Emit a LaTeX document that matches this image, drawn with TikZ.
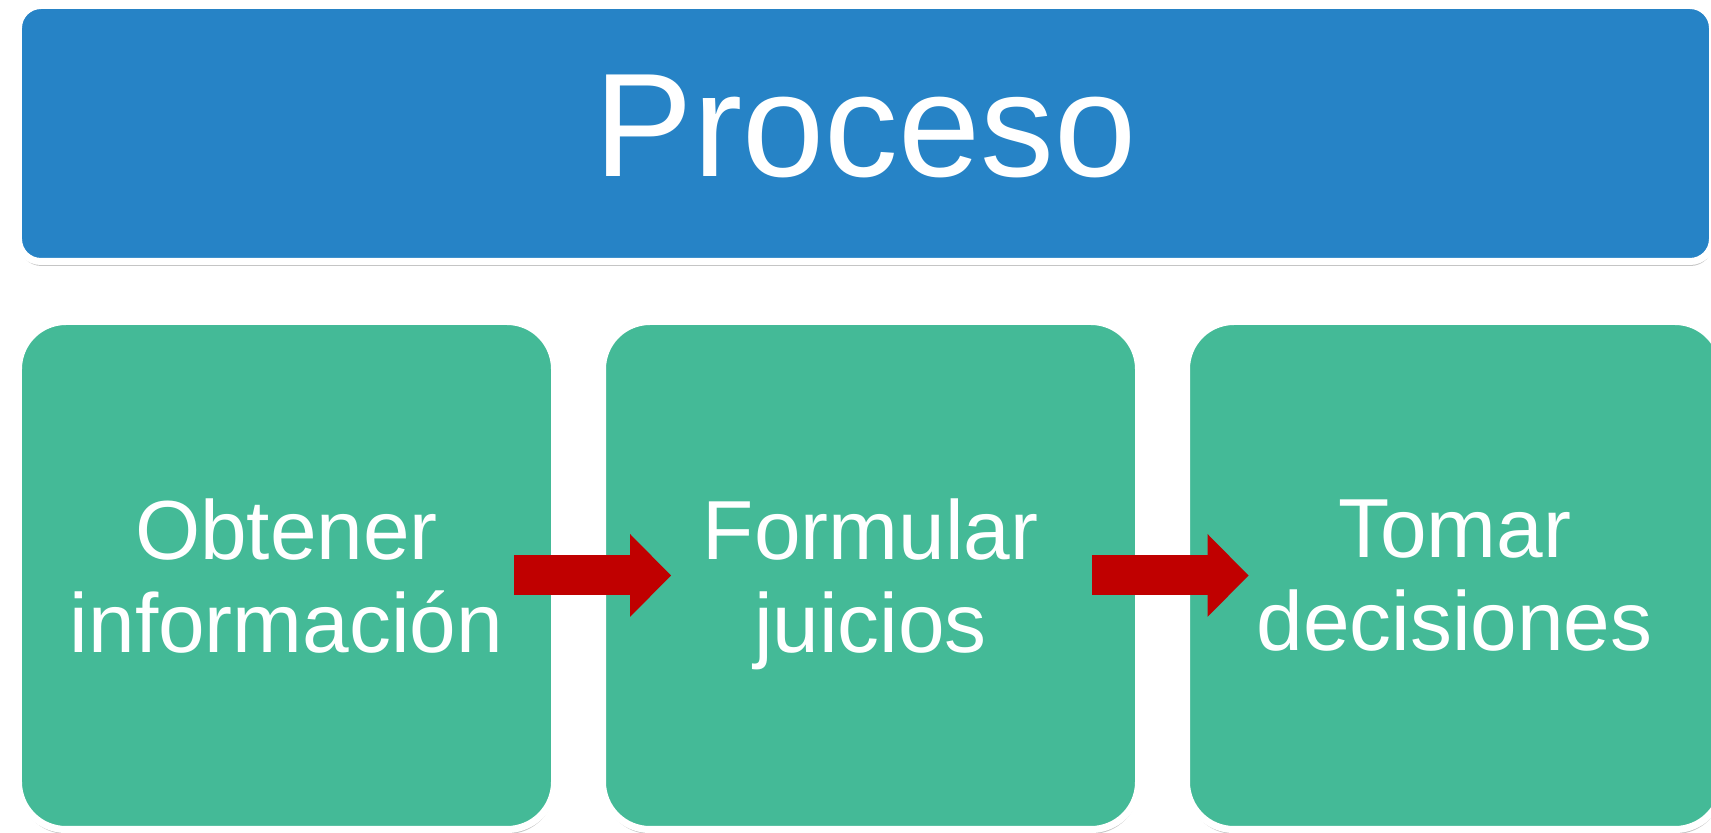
\documentclass[tikz,border=0pt]{standalone}
\usepackage{fontspec}
\setmainfont{Liberation Sans}
\usetikzlibrary{positioning,arrows.meta,shadows}

\definecolor{procblue}{RGB}{38,131,198}
\definecolor{stepgreen}{RGB}{68,186,151}
\definecolor{arrowred}{RGB}{192,0,0}

\tikzset{
    card/.style={draw=white, line width=0.14cm, text=white,
        drop shadow={shadow xshift=0.01cm, shadow yshift=-0.09cm, fill=black!45, opacity=0.5}},
    stepcard/.style={card, fill=stepgreen, rounded corners=0.95cm,
        minimum width=10.72cm, minimum height=10.16cm,
        text width=9.6cm, align=center, text depth=52.8pt,
        font=\fontsize{47.7}{52.8}\selectfont},
    flow/.style={arrowred, line width=0.8cm,
        -{Triangle[length=0.82cm, width=1.66cm, line width=0pt]}}
}

\begin{document}
\begin{tikzpicture}
        \useasboundingbox (0,0) rectangle (34.22,16.66);

        % Title bar
        \node[card, fill=procblue, rounded corners=0.45cm,
            minimum width=33.88cm, minimum height=5.12cm,
            text depth=0.3cm, font=\fontsize{84}{90}\selectfont]
            (proceso) at (17.31,13.99) {Proceso};

        % Steps
        \node[stepcard] (obtener) at (5.73,5.15) {Obtener\\información};
        \node[stepcard, right=0.82cm of obtener] (formular) {Formular\\juicios};
        \node[stepcard, right=0.82cm of formular] (tomar) {Tomar\\decisiones};

        % Arrows between steps
        \draw[flow] ([xshift=-0.88cm]obtener.east) -- ([xshift=1.44cm]formular.west);
        \draw[flow] ([xshift=-1.0cm]formular.east) -- ([xshift=1.31cm]tomar.west);
    \end{tikzpicture}
\end{document}
